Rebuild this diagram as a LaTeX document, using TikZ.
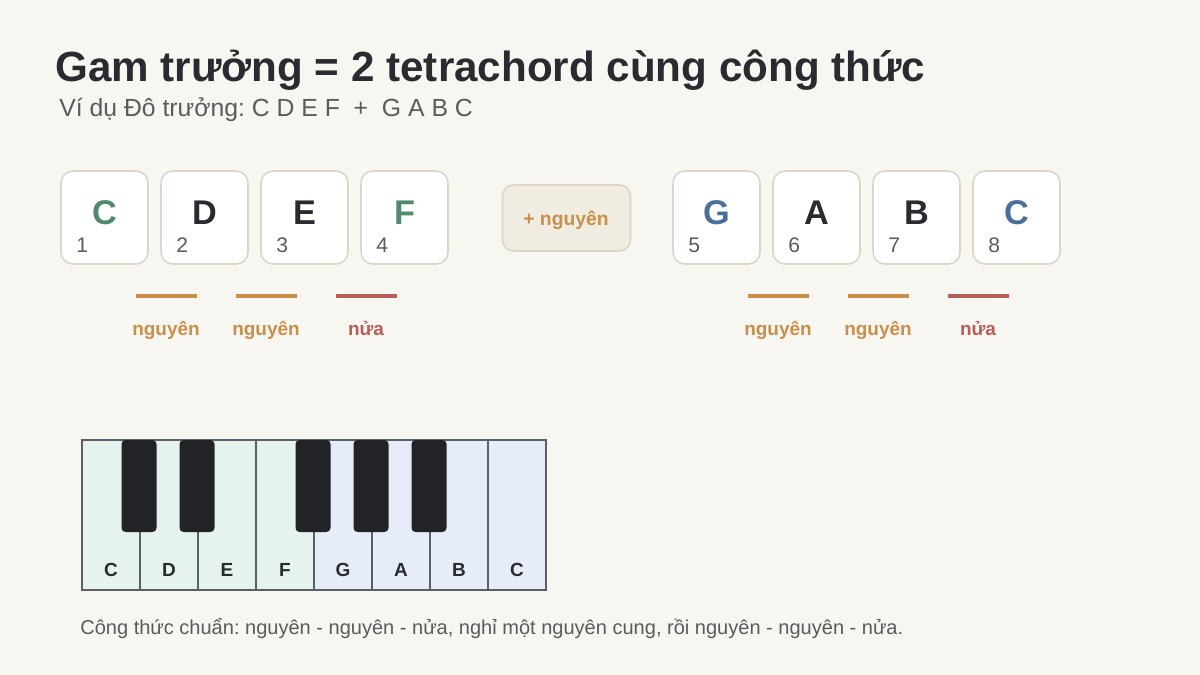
\documentclass[tikz,border=0pt]{standalone}
\usepackage{fontspec}
\setmainfont{Liberation Sans}
\frenchspacing
\definecolor{bg}{HTML}{F8F6F1}
\definecolor{ink}{HTML}{2A2B30}
\definecolor{subink}{HTML}{5A5B5E}
\definecolor{boxline}{HTML}{DCD6C9}
\definecolor{greennote}{HTML}{4F8A6E}
\definecolor{bluenote}{HTML}{4A6F9A}
\definecolor{whole}{HTML}{C98F4B}
\definecolor{half}{HTML}{B65E58}
\definecolor{plusfill}{HTML}{F1ECE2}
\definecolor{plusline}{HTML}{DDD5C5}
\definecolor{keyline}{HTML}{5C6066}
\definecolor{lowkey}{HTML}{E6F3EC}
\definecolor{highkey}{HTML}{E7EDF8}
\definecolor{blackkey}{HTML}{222326}
\newcommand{\fs}[1]{\fontsize{#1}{#1}\selectfont}
\tikzset{
	notebox/.style={draw=boxline, fill=white, line width=0.9pt, rounded corners=0.24cm, minimum width=1.74cm, minimum height=1.86cm, inner sep=0pt},
	letter/.style={anchor=base, inner sep=0pt, font=\fs{19.5pt}\bfseries},
	degree/.style={anchor=base west, inner sep=0pt, text=subink, font=\fs{12pt}},
	steplabel/.style={anchor=base, inner sep=0pt, font=\fs{10.8pt}\bfseries},
	keylabel/.style={anchor=base, inner sep=0pt, text=ink, font=\fs{10.8pt}\bfseries}
}
\begin{document}
\begin{tikzpicture}[x=0.02cm, y=-0.02cm]
	\fill[bg] (0,0) rectangle (1200,675);
	\useasboundingbox (0,0) rectangle (1200,675);
	\node[anchor=base west, inner sep=0pt, text=ink, font=\fs{24pt}\bfseries] (title) at (55,82) {Gam trưởng = 2 tetrachord cùng công thức};
	\node[anchor=base west, inner sep=0pt, text=subink, font=\fs{14.1pt}] (subtitle) at (59,117) {Ví dụ Đô trưởng: C D E F \ + \ G A B C};
	\foreach \i/\n/\c in {1/C/greennote, 2/D/ink, 3/E/ink, 4/F/greennote, 5/G/bluenote, 6/A/ink, 7/B/ink, 8/C/bluenote} {
		\pgfmathsetmacro{\xl}{\i<5 ? 61+100*(\i-1) : 673+100*(\i-5)}
		\node[notebox] (n\i) at (\xl+43.5,217.5) {};
		\node[letter, text=\c] (l\i) at (\xl+43.5,225) {\n};
		\node[degree] (d\i) at (\xl+15,253) {\i};
	}
	\node[draw=plusline, fill=plusfill, line width=0.9pt, rounded corners=0.22cm, minimum width=2.56cm, minimum height=1.32cm] (plus) at (566.5,218) {};
	\node[anchor=base, inner sep=0pt, text=whole, font=\fs{11pt}\bfseries] (pluslabel) at (566,226) {+ nguyên};
	\foreach \x/\t/\c [count=\k] in {166/nguyên/whole, 266/nguyên/whole, 366/nửa/half, 778/nguyên/whole, 878/nguyên/whole, 978/nửa/half} {
		\draw[\c, line width=0.08cm] (\x-30.5,296.5) -- (\x+30.5,296.5);
		\node[steplabel, text=\c] (s\k) at (\x,336) {\t};
	}
	\foreach \n [count=\k from 0] in {C,D,E,F,G,A,B,C} {
		\pgfmathsetmacro{\kc}{\k<4 ? "lowkey" : "highkey"}
		\draw[keyline, fill=\kc, line width=0.04cm] (82+58*\k,440) rectangle (140+58*\k,590);
		\node[keylabel] (k\k) at (111+58*\k,576) {\n};
	}
	\foreach \x in {139,197,313,371,429}
		\fill[blackkey, rounded corners=0.08cm] (\x-17.5,440) rectangle (\x+17.5,532);
	\node[anchor=base west, inner sep=0pt, text=subink, font=\fs{11.4pt}] (footer) at (80,634) {Công thức chuẩn: nguyên - nguyên - nửa, nghỉ một nguyên cung, rồi nguyên - nguyên - nửa.};
\end{tikzpicture}
\end{document}
